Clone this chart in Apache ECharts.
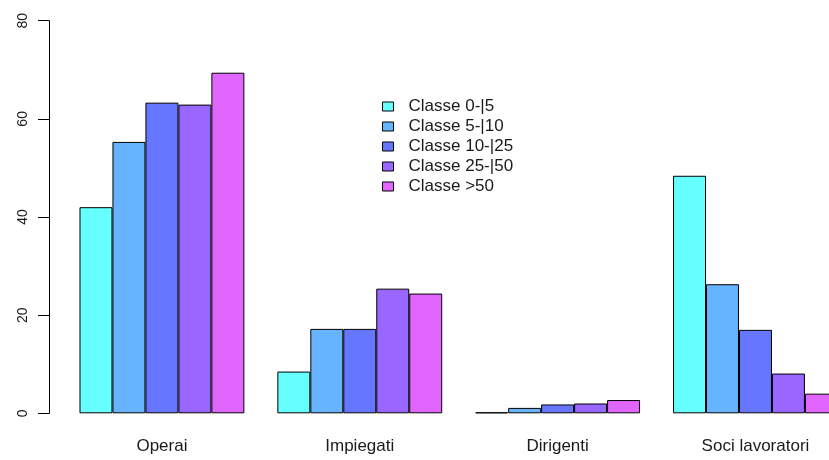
<!DOCTYPE html>
<html>
<head>
<meta charset="utf-8">
<script src="https://cdn.jsdelivr.net/npm/echarts@6/dist/echarts.min.js"></script>
<style>
  html, body { margin: 0; padding: 0; background: #fff; }
  #chart { width: 829px; height: 460px; }
</style>
</head>
<body>
<div id="chart"></div>
<script>
// Worker categories along the x axis
const categories = ['Operai', 'Impiegati', 'Dirigenti', 'Soci lavoratori'];

// Size classes (number of employees)
const classNames = ['Classe 0-|5', 'Classe 5-|10', 'Classe 10-|25', 'Classe 25-|50', 'Classe >50'];

// Percentages per size class, one value per category
const classe0_5   = [42.0, 8.5, 0.2, 48.4];
const classe5_10  = [55.3, 17.2, 1.1, 26.3];
const classe10_25 = [63.3, 17.2, 1.8, 17.0];
const classe25_50 = [62.9, 25.4, 2.0, 8.1];
const classe50    = [69.4, 24.4, 2.7, 4.0];

const yTicks = [0, 20, 40, 60, 80];

const seriesData = [classe0_5, classe5_10, classe10_25, classe25_50, classe50];
const colors = ['#66FFFF', '#66B3FF', '#6676FF', '#9966FF', '#E066FF'];

const chart = echarts.init(document.getElementById('chart'));

chart.setOption({
  animation: false,
  backgroundColor: '#ffffff',
  textStyle: { fontFamily: 'Liberation Sans, Arial, sans-serif' },
  // plot area runs past the right edge, so the last group is partly cut off
  grid: {
    left: 63, width: 791.4, top: 20.7, bottom: 46.7,
    containLabel: false, outerBoundsMode: 'none'
  },
  legend: {
    orient: 'vertical',
    left: 377,
    top: 93,
    itemWidth: 11,
    itemHeight: 9,
    itemGap: 3,
    icon: 'rect',
    data: classNames,
    itemStyle: { borderColor: '#000', borderWidth: 1 },
    textStyle: { fontSize: 17, color: '#1a1a1a', padding: [0, 0, 0, 10] }
  },
  xAxis: {
    type: 'category',
    data: categories,
    axisLine: { show: false },
    axisTick: { show: false },
    axisLabel: { fontSize: 17, color: '#1a1a1a', margin: 25 },
    splitLine: { show: false }
  },
  yAxis: {
    type: 'value',
    min: yTicks[0],
    max: yTicks[yTicks.length - 1],
    interval: 20,
    offset: 14,
    axisLine: { show: true, lineStyle: { color: '#000', width: 1 } },
    axisTick: { show: true, length: 11, lineStyle: { color: '#000' } },
    axisLabel: { rotate: 90, fontSize: 14, color: '#1a1a1a', margin: 19 },
    splitLine: { show: false }
  },
  series: seriesData.map((vals, i) => ({
    name: classNames[i],
    type: 'bar',
    data: vals,
    barGap: '0%',
    barCategoryGap: '16.67%',
    itemStyle: { color: colors[i], borderColor: '#000', borderWidth: 1 }
  }))
});
</script>
</body>
</html>
